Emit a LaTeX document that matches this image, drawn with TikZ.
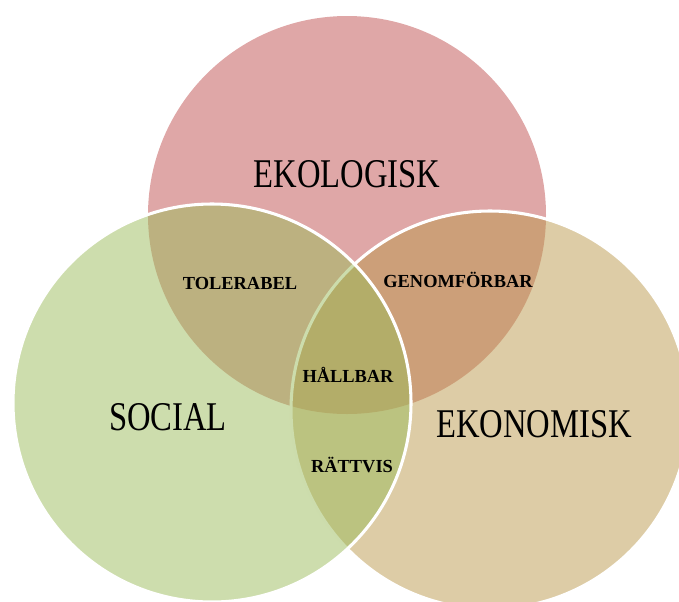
\documentclass[tikz,border=0pt]{standalone}
\usepackage{fontspec}
\usepackage{tikz}
\newfontfamily\bigserif[FakeStretch=0.8]{Liberation Serif}
\newfontfamily\smallserif{Liberation Serif}
\definecolor{ekorosa}{RGB}{223,167,167}
\definecolor{ekobrun}{RGB}{187,153,77}
\definecolor{socgron}{RGB}{155,187,91}

\begin{document}
\begin{tikzpicture}[x=0.75pt, y=-0.75pt,
  ring/.style = {draw=white, line width=2.3pt, fill opacity=0.5},
  big/.style = {anchor=base, inner sep=0pt, font=\bigserif\fontsize{30.6}{36}\selectfont},
  small/.style = {anchor=base, inner sep=0pt, font=\smallserif\bfseries\fontsize{13.8}{16}\selectfont}]
\useasboundingbox (0,0) rectangle (679,601);
\clip (0,0) rectangle (679,601);
% the three circles
\fill [ekorosa] (347,215) circle (199);
\draw [ring, fill=ekobrun] (490,410) circle (199);
\draw [ring, fill=socgron] (212,403) circle (199);
% labels
\node [big] (eko) at (347,187) {EKOLOGISK};
\node [big] (soc) at (168,430) {SOCIAL};
\node [big] (ekn) at (534,437) {EKONOMISK};
\node [small] (tol) at (240,289) {TOLERABEL};
\node [small] (gen) at (458,287) {GENOMFÖRBAR};
\node [small] (hal) at (348,382) {HÅLLBAR};
\node [small] (rat) at (352,472) {RÄTTVIS};
\end{tikzpicture}
\end{document}
